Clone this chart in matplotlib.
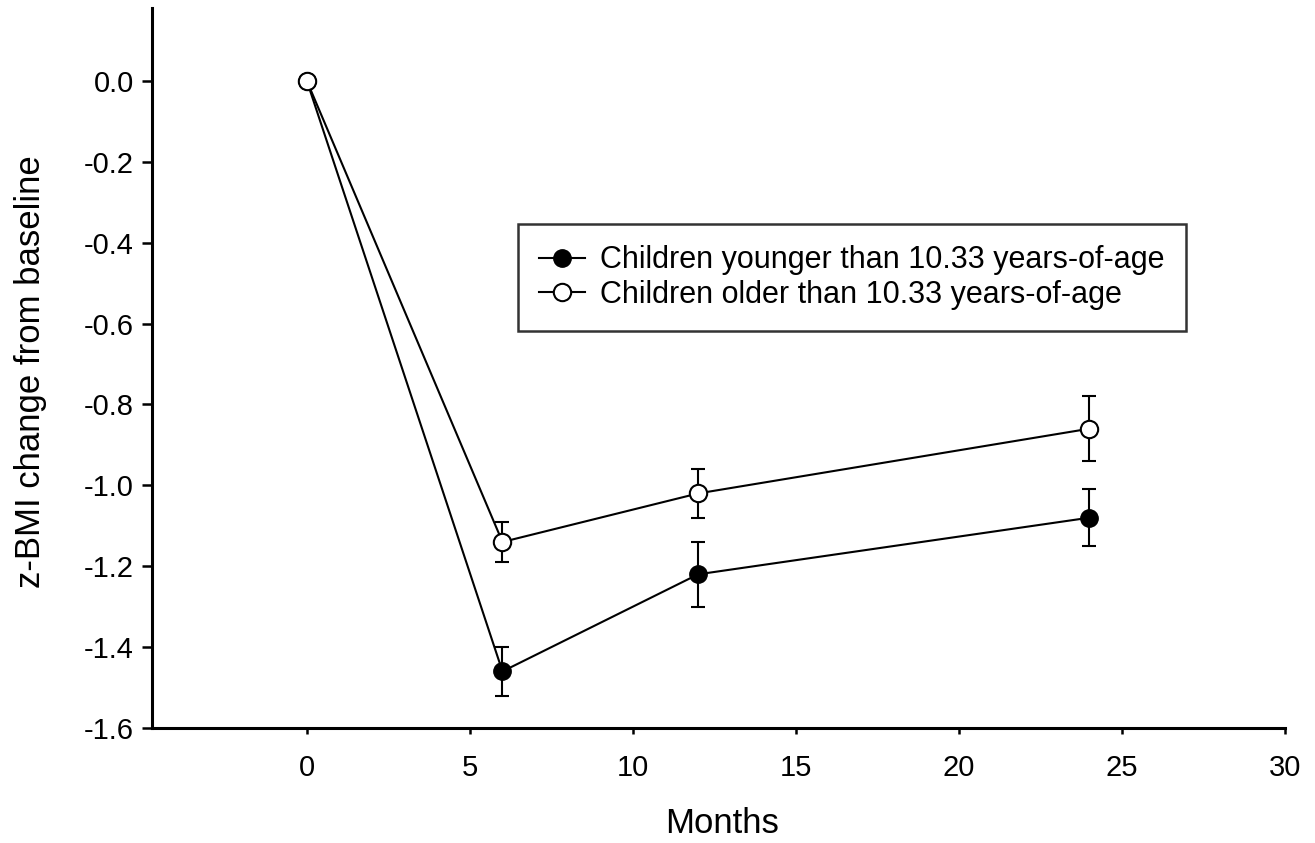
import matplotlib.pyplot as plt
from matplotlib.lines import Line2D

plt.rcParams['font.family'] = ['Liberation Sans', 'DejaVu Sans']
plt.rcParams['axes.unicode_minus'] = False

# months since baseline
months = [0, 6, 12, 24]

# z-BMI change from baseline (mean and error)
younger = [0.0, -1.46, -1.22, -1.08]
younger_err = [0.0, 0.06, 0.08, 0.07]
older = [0.0, -1.14, -1.02, -0.86]
older_err = [0.0, 0.05, 0.06, 0.08]

labels = ['Children younger than 10.33 years-of-age',
          'Children older than 10.33 years-of-age']
yticks = [0.0, -0.2, -0.4, -0.6, -0.8, -1.0, -1.2, -1.4, -1.6]
xticks = [0, 5, 10, 15, 20, 25, 30]

fig = plt.figure(figsize=(13.15, 8.43), dpi=100)
ax = fig.add_axes([0.1156, 0.1364, 0.8615, 0.854])

ax.errorbar(months, younger, yerr=younger_err, color='black', lw=1.5,
            marker='o', ms=12.5, mfc='black', mec='black', capsize=5,
            elinewidth=1.5, capthick=1.5, zorder=3)
ax.errorbar(months, older, yerr=older_err, color='black', lw=1.5,
            marker='o', ms=12.5, mfc='white', mec='black', mew=1.5, capsize=5,
            elinewidth=1.5, capthick=1.5, zorder=4)

ax.set_xlim(-4.75, 30)
ax.set_ylim(-1.6, 0.18)
ax.set_xticks(xticks)
ax.set_yticks(yticks)
ax.set_yticklabels(['%.1f' % v for v in yticks])

for s in ['top', 'right']:
    ax.spines[s].set_visible(False)
for s in ['left', 'bottom']:
    ax.spines[s].set_linewidth(2.2)
ax.tick_params(axis='y', direction='out', length=7, width=1.8,
               labelsize=21, pad=6)
ax.tick_params(axis='x', direction='out', length=4, width=1.8,
               labelsize=21, pad=15)

ax.set_ylabel('z-BMI change from baseline', fontsize=25)
ax.yaxis.set_label_coords(-0.093, 0.495)
ax.set_xlabel('Months', fontsize=25)
ax.xaxis.set_label_coords(0.503, -0.11)

handles = [
    Line2D([], [], color='black', lw=1.5, marker='o', ms=12.5,
           mfc='black', mec='black'),
    Line2D([], [], color='black', lw=1.5, marker='o', ms=12.5,
           mfc='white', mec='black', mew=1.5),
]
leg = ax.legend(handles, labels, loc='upper left',
                bbox_to_anchor=(0.323, 0.70), fontsize=22,
                frameon=True, fancybox=False, edgecolor='black',
                handlelength=1.5, handletextpad=0.5, borderpad=0.7,
                labelspacing=0.15, borderaxespad=0)
leg.get_frame().set_linewidth(1.8)

plt.savefig('out.png', dpi=100)
